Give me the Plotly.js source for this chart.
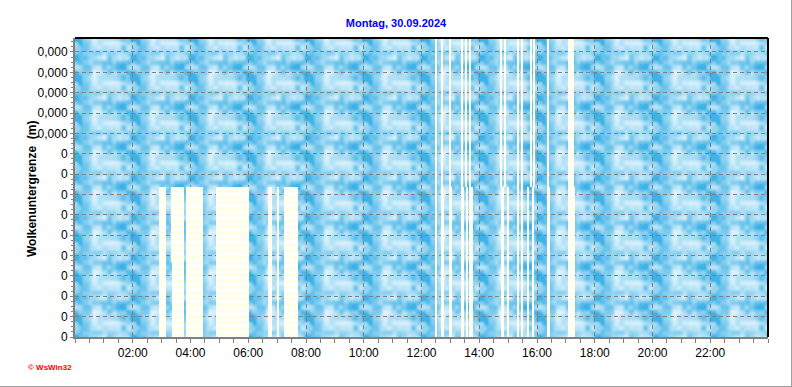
<!DOCTYPE html>
<html><head><meta charset="utf-8">
<script src="https://cdn.plot.ly/plotly-3.0.1.min.js"></script>
<style>
html,body{margin:0;padding:0;background:#fff;overflow:hidden;}
#chart{position:absolute;left:0;top:0;width:792px;height:387px;}
#frame{position:absolute;left:0;top:0;width:791px;height:386px;border-right:1px solid #a0a0a0;border-bottom:1px solid #a0a0a0;pointer-events:none;}
</style>
</head><body>
<div id="chart"></div><div id="frame"></div>
<script>
// ---- data (hours of day) ----
const titleText = 'Montag, 30.09.2024';
const xTickVals = [2, 4, 6, 8, 10, 12, 14, 16, 18, 20, 22];
const xTickText = ['02:00','04:00','06:00','08:00','10:00','12:00','14:00','16:00','18:00','20:00','22:00'];
const yTickVals = [0,1,2,3,4,5,6,7,8,9,10,11,12,13,14];
const yTickText = ['0','0','0','0','0','0','0','0','0','0','0,000','0,000','0,000','0,000','0,000'];

const lowLevel = 3.68;
const midLevel = 7.37;
const topLevel = 15;

// morning cloud bars (0 .. midLevel)
const morningStart = [2.90, 3.37, 3.85, 4.90, 5.66, 6.67, 6.98, 7.25];
const morningEnd   = [3.14, 3.79, 4.45, 5.63, 6.03, 6.81, 7.05, 7.71];
// morning lower joins (0 .. lowLevel)
const lowStart = [5.60, 7.23];
const lowEnd   = [5.70, 7.74];
// morning upper slivers (lowLevel .. midLevel)
const sliverStart = [3.31];
const sliverEnd   = [3.35];
// afternoon upper segments (midLevel .. top)
const upperStart = [12.48, 12.68, 12.95, 13.37, 13.52, 13.63, 14.73, 14.87, 15.29, 15.45, 15.76, 15.87, 16.35, 17.08];
const upperEnd   = [12.53, 12.73, 13.02, 13.43, 13.56, 13.72, 14.79, 14.93, 15.36, 15.50, 15.81, 15.94, 16.43, 17.27];
// afternoon lower segments (0 .. midLevel)
const aftLowStart = [12.48, 12.68, 12.96, 13.37, 13.54, 13.66, 14.75, 14.95, 15.31, 15.45, 15.67, 15.83, 16.35, 17.06];
const aftLowEnd   = [12.54, 12.77, 13.06, 13.46, 13.62, 13.77, 14.84, 15.02, 15.36, 15.50, 15.73, 15.88, 16.45, 17.30];

// ---- background texture (style only) ----
function hash(ix, iy){ const s = Math.sin(ix*127.1 + iy*311.7)*43758.5453; return s - Math.floor(s); }
function vnoise(x, y, cell, rx, ry){
  const gx = x/cell, gy = y/cell;
  const ix = Math.floor(gx), iy = Math.floor(gy);
  const fx = gx-ix, fy = gy-iy;
  const sx = fx*fx*(3-2*fx), sy = fy*fy*(3-2*fy);
  const w = (a,b)=>hash(((a%rx)+rx)%rx, ((b%ry)+ry)%ry);
  const a = w(ix,iy), b = w(ix+1,iy), c = w(ix,iy+1), d = w(ix+1,iy+1);
  return a + (b-a)*sx + (c-a)*sy + (a-b-c+d)*sx*sy;
}
function makeTexture(W, H){
  const cv = document.createElement('canvas'); cv.width = W; cv.height = H;
  const ctx = cv.getContext('2d'); const img = ctx.createImageData(W, H);
  const TW = 58, TH = 40;
  const dark = [62,177,230], light = [232,247,253];
  for (let y=0;y<H;y++) for (let x=0;x<W;x++){
    const tx = x % TW, ty = y % TH;
    let v = 0.6*vnoise(tx, ty, 9.67, 6, 4) + 0.4*vnoise(tx, ty, 4.83, 12, 8);
    v = Math.min(1, Math.max(0, (v-0.22)*1.45));
    v = Math.pow(v, 0.9);
    const i = (y*W+x)*4;
    for (let k=0;k<3;k++) img.data[i+k] = Math.round(dark[k] + (light[k]-dark[k])*v);
    img.data[i+3] = 255;
  }
  ctx.putImageData(img, 0, 0);
  return cv.toDataURL('image/png');
}

const pattern = {shape: '-', size: 6, solidity: 0.45, fgcolor: '#ffffc6', bgcolor: '#ffffff', fillmode: 'overlay'};
function barTrace(starts, ends, base, top){
  return {
    type: 'bar',
    x: starts,
    width: starts.map((s,i)=>ends[i]-s),
    y: starts.map(()=>top-base),
    base: starts.map(()=>base),
    offset: 0,
    marker: {color: '#ffffff', line: {width: 0}, pattern: pattern},
    hoverinfo: 'skip', showlegend: false
  };
}

const traces = [
  barTrace(morningStart, morningEnd, 0, midLevel),
  barTrace(lowStart, lowEnd, 0, lowLevel),
  barTrace(sliverStart, sliverEnd, lowLevel, midLevel),
  barTrace(aftLowStart, aftLowEnd, 0, midLevel),
  barTrace(upperStart, upperEnd, midLevel, topLevel)
];

const L = 75, R = 24, T = 38, B = 50, PW = 792-L-R, PH = 387-T-B;
const fnt = 'Liberation Sans, Arial, sans-serif';

const layout = {
  width: 792, height: 387,
  margin: {l: L, r: R, t: T, b: B, pad: 0},
  paper_bgcolor: 'rgba(255,255,255,1)', plot_bgcolor: '#8ed0f0',
  barmode: 'overlay', bargap: 0,
  font: {family: fnt, size: 12, color: '#000'},
  title: {text: '<b>' + titleText + '</b>', font: {family: fnt, size: 11, color: '#0000ff'},
          x: 0.5, xref: 'container', xanchor: 'center', y: 1 - 23/387, yref: 'container', yanchor: 'middle'},
  xaxis: {
    range: [0, 24], tickmode: 'array', tickvals: xTickVals, ticktext: xTickText,
    ticks: 'outside', ticklen: 4, tickwidth: 1, tickcolor: '#808080',
    minor: {dtick: 0.5, ticks: 'outside', ticklen: 4, tickcolor: '#808080', showgrid: false},
    showgrid: true, gridcolor: '#808080', gridwidth: 1, griddash: '4px,3px',
    showline: true, linecolor: '#808080', linewidth: 2, zeroline: false,
    tickfont: {family: fnt, size: 12, color: '#000'}, fixedrange: true
  },
  yaxis: {
    range: [0, PH/20.36], tickmode: 'array', tickvals: yTickVals, ticktext: yTickText,
    ticks: 'outside', ticklen: 3, tickwidth: 1, tickcolor: '#808080',
    minor: {dtick: 0.25, ticks: 'outside', ticklen: 2, tickcolor: '#808080', showgrid: false},
    showgrid: true, gridcolor: '#808080', gridwidth: 1, griddash: '4px,3px',
    showline: true, linecolor: '#808080', linewidth: 2, zeroline: false,
    tickfont: {family: fnt, size: 12, color: '#000'}, fixedrange: true
  },
  images: [{source: makeTexture(PW, PH), xref: 'paper', yref: 'paper', x: 0, y: 1, sizex: 1, sizey: 1,
            xanchor: 'left', yanchor: 'top', sizing: 'stretch', layer: 'below'}],
  shapes: [
    {type: 'line', xref: 'paper', yref: 'paper', x0: 0, x1: 1, y0: 1, y1: 1, line: {color: '#000', width: 2}},
    {type: 'line', xref: 'paper', yref: 'paper', x0: 1, x1: 1, y0: 0, y1: 1, line: {color: '#000', width: 2}}
  ],
  annotations: [
    {text: '<b>Wolkenuntergrenze  (m)</b>', xref: 'paper', yref: 'paper', x: (32-L)/PW, y: 0.5 - (189-187.5)/PH,
     textangle: -90, showarrow: false, xanchor: 'center', yanchor: 'middle', font: {family: fnt, size: 12, color: '#000'}},
    {text: '<b>© WsWin32</b>', xref: 'paper', yref: 'paper', x: (26-L)/PW, y: -(367-337)/PH,
     showarrow: false, xanchor: 'left', yanchor: 'middle', font: {family: fnt, size: 8, color: '#ff0000'}}
  ]
};

Plotly.newPlot('chart', traces, layout, {displayModeBar: false, staticPlot: true});
</script>
</body></html>
